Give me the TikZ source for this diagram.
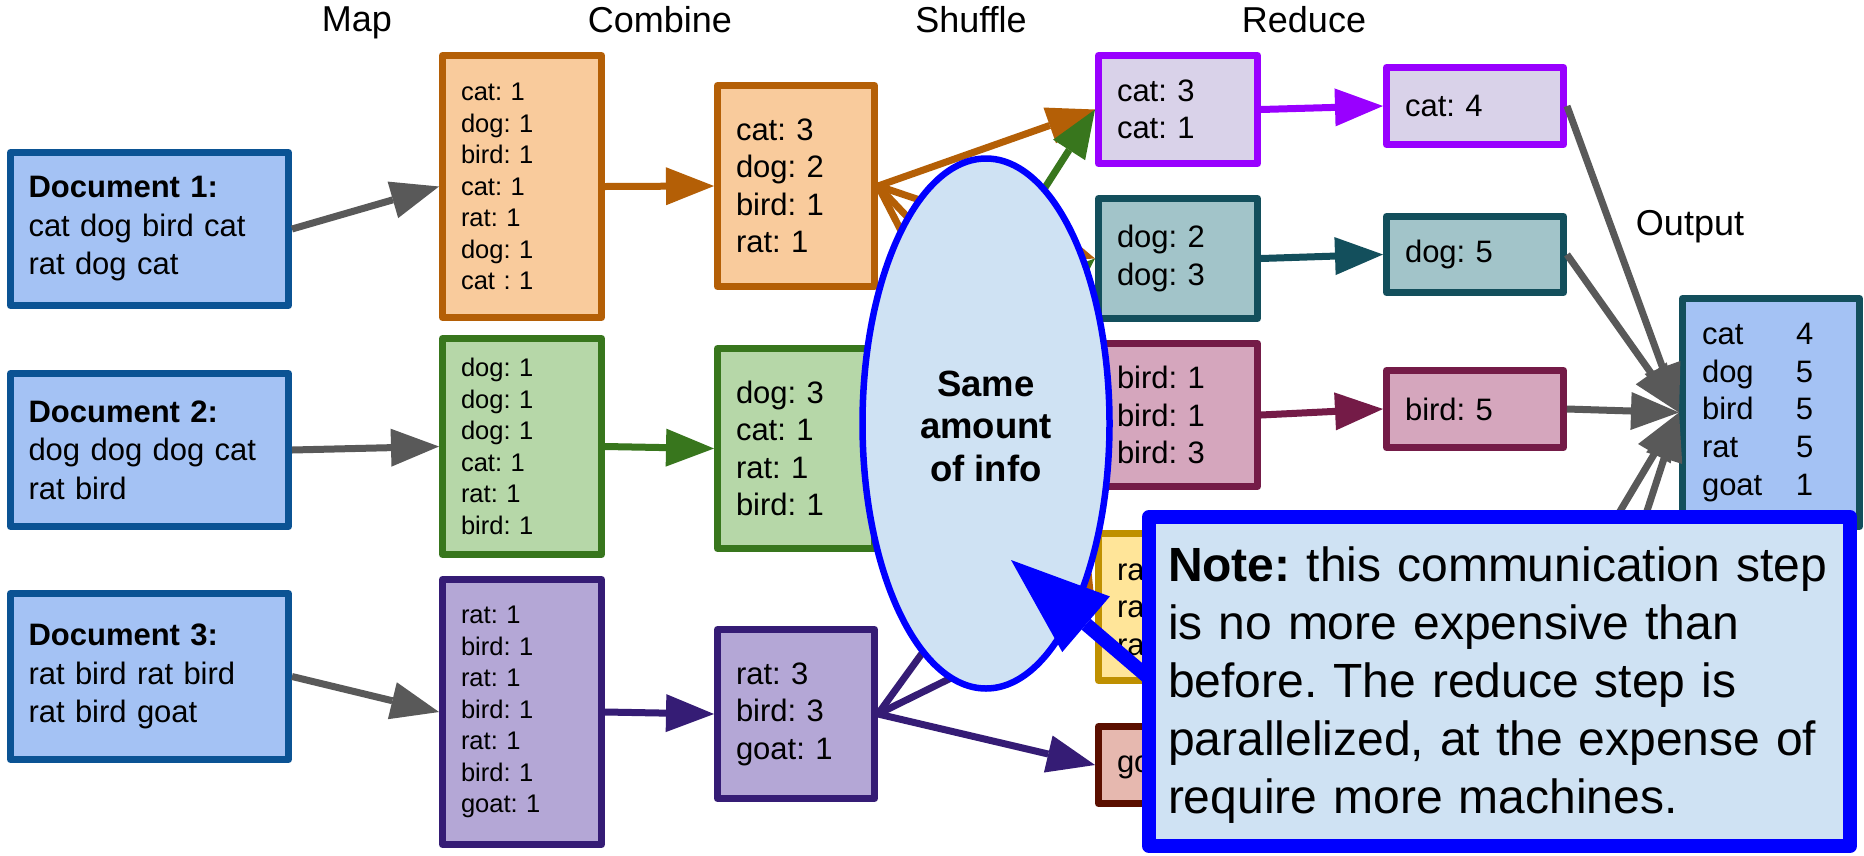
\documentclass[tikz,border=0pt]{standalone}
\usepackage{fontspec}
\setmainfont{Liberation Sans}
\usetikzlibrary{arrows.meta,shapes.geometric}
\definecolor{docfill}{HTML}{A4C2F4}
\definecolor{docline}{HTML}{0B5394}
\definecolor{orfill}{HTML}{F9CB9C}
\definecolor{orline}{HTML}{B45F06}
\definecolor{grfill}{HTML}{B6D7A8}
\definecolor{grline}{HTML}{38761D}
\definecolor{pufill}{HTML}{B4A7D6}
\definecolor{puline}{HTML}{351C75}
\definecolor{catfill}{HTML}{D9D2E9}
\definecolor{catline}{HTML}{9900FF}
\definecolor{dogfill}{HTML}{A2C4C9}
\definecolor{dogline}{HTML}{134F5C}
\definecolor{birdfill}{HTML}{D5A6BD}
\definecolor{birdline}{HTML}{741B47}
\definecolor{ratfill}{HTML}{FFE599}
\definecolor{ratline}{HTML}{BF9000}
\definecolor{goatfill}{HTML}{E6B8AF}
\definecolor{goatline}{HTML}{5B0F00}
\definecolor{ellfill}{HTML}{CFE2F3}
\definecolor{callblue}{HTML}{0000FF}
\definecolor{arrgray}{HTML}{595959}
\frenchspacing
\begin{document}
\begin{tikzpicture}[x=1pt,y=-1pt,
  box/.style={draw, line width=7pt, line join=round, inner sep=0pt, align=left,
    font=\fontsize{31}{37.5}\selectfont},
  docbox/.style={box, fill=docfill, draw=docline, minimum width=278pt, text width=242pt,
    font=\fontsize{31}{38.5}\selectfont},
  mapbox/.style={box, minimum width=159pt, text width=122pt, font=\fontsize{25.5}{31.5}\selectfont},
  combox/.style={box, minimum width=157pt, text width=120pt},
  redbox/.style={box, minimum width=159pt, text width=122pt},
  outbox/.style={box, minimum width=177pt, text width=140pt},
  conn/.style={line width=7pt, -{Triangle[length=48pt,width=38pt,line width=0pt]}},
  lbl/.style={anchor=base, inner sep=0pt, font=\fontsize{36}{43}\selectfont},
]
\useasboundingbox (0,0) rectangle (1864,855);
\fill[white] (0,0) rectangle (1864,855);

% column labels
\node[lbl] (lmap) at (357,31) {Map};
\node[lbl] (lcomb) at (660,32) {Combine};
\node[lbl] (lshuf) at (971,32) {Shuffle};
\node[lbl] (lred) at (1304,32) {Reduce};
\node[lbl] (lout) at (1690,235) {Output};

% documents
\node[docbox, minimum height=153pt] (doc1) at (149.5,229) {\textbf{Document 1:}\\cat dog bird cat\\rat dog cat};
\node[docbox, minimum height=153pt] (doc2) at (149.5,450) {\textbf{Document 2:}\\dog dog dog cat\\rat bird};
\node[docbox, minimum height=166pt] (doc3) at (149.5,676.5) {\textbf{Document 3:}\\rat bird rat bird\\rat bird goat};

% map outputs
\node[mapbox, fill=orfill, draw=orline, minimum height=262pt] (map1) at (522,186.5)
  {cat: 1\\dog: 1\\bird: 1\\cat: 1\\rat: 1\\dog: 1\\cat : 1};
\node[mapbox, fill=grfill, draw=grline, minimum height=216pt] (map2) at (522,446.5)
  {dog: 1\\dog: 1\\dog: 1\\cat: 1\\rat: 1\\bird: 1};
\node[mapbox, fill=pufill, draw=puline, minimum height=265pt] (map3) at (522,712)
  {rat: 1\\bird: 1\\rat: 1\\bird: 1\\rat: 1\\bird: 1\\goat: 1};

% combine outputs
\node[combox, fill=orfill, draw=orline, minimum height=201pt] (comb1) at (796,186)
  {cat: 3\\dog: 2\\bird: 1\\rat: 1};
\node[combox, fill=grfill, draw=grline, minimum height=200pt] (comb2) at (796,448.5)
  {dog: 3\\cat: 1\\rat: 1\\bird: 1};
\node[combox, fill=pufill, draw=puline, minimum height=169pt] (comb3) at (796,714)
  {rat: 3\\bird: 3\\goat: 1};

% reduce inputs
\node[redbox, fill=catfill, draw=catline, minimum height=108pt] (rcat) at (1178,109.5) {cat: 3\\cat: 1};
\node[redbox, fill=dogfill, draw=dogline, minimum height=120pt] (rdog) at (1178,258.5) {dog: 2\\dog: 3};
\node[redbox, fill=birdfill, draw=birdline, minimum height=143pt] (rbird) at (1178,415) {bird: 1\\bird: 1\\bird: 3};
\node[redbox, fill=ratfill, draw=ratline, minimum height=147pt] (rrat) at (1178,607) {rat: 1\\rat: 1\\rat: 3};
\node[redbox, fill=goatfill, draw=goatline, minimum height=77pt] (rgoat) at (1178,765) {goat: 1};

% reduce outputs
\node[outbox, fill=catfill, draw=catline, minimum height=77pt] (ocat) at (1475,106) {cat: 4};
\node[outbox, fill=dogfill, draw=dogline, minimum height=76pt] (odog) at (1475,254.5) {dog: 5};
\node[outbox, fill=birdfill, draw=birdline, minimum height=77pt] (obird) at (1475,409) {bird: 5};

% final output
\node[box, fill=docfill, draw=dogline, minimum width=177pt, minimum height=228pt, text width=138pt,
  font=\fontsize{31}{37.7}\selectfont] (output) at (1771,412.5)
  {\makebox[94pt][l]{cat}4\\\makebox[94pt][l]{dog}5\\\makebox[94pt][l]{bird}5\\\makebox[94pt][l]{rat}5\\\makebox[94pt][l]{goat}1};

\coordinate (rat5) at (1567,600);
\coordinate (goat1) at (1567,757);

% map arrows
\draw[conn, arrgray] (doc1.east) -- (map1.west);
\draw[conn, arrgray] (doc2.east) -- (map2.west);
\draw[conn, arrgray] (doc3.east) -- (map3.west);

% combine arrows
\draw[conn, orline] (map1.east) -- (comb1.west);
\draw[conn, grline] (map2.east) -- (comb2.west);
\draw[conn, puline] (map3.east) -- (comb3.west);

% shuffle arrows
\foreach \t in {rcat,rdog,rbird,rrat} \draw[conn, orline] (comb1.east) -- (\t.west);
\foreach \t in {rcat,rdog,rbird,rrat} \draw[conn, grline] (comb2.east) -- (\t.west);
\foreach \t in {rbird,rrat,rgoat} \draw[conn, puline] (comb3.east) -- (\t.west);

% reduce arrows
\draw[conn, catline] (rcat.east) -- (ocat.west);
\draw[conn, dogline] (rdog.east) -- (odog.west);
\draw[conn, birdline] (rbird.east) -- (obird.west);

% to output
\draw[conn, arrgray] (ocat.east) -- (output.west);
\draw[conn, arrgray] (odog.east) -- (output.west);
\draw[conn, arrgray] (obird.east) -- (output.west);
\draw[conn, arrgray] (rat5) -- (output.west);
\draw[conn, arrgray] (goat1) -- (output.west);

% ellipse
\node[ellipse, draw=callblue, fill=ellfill, line width=6.5pt, minimum width=247pt, minimum height=530pt,
  inner sep=0pt, align=center, font=\fontsize{36.5}{42.5}\selectfont\bfseries] (ell) at (986,423.5)
  {\rule{0pt}{31pt}Same\\amount\\of info};

% callout arrow
\coordinate (calltip) at (1011,560);
\coordinate (callfrom) at (1160,687.5);
\draw[line width=14pt, callblue, -{Triangle[length=98.8pt,width=73.2pt,line width=0pt]}] (callfrom) -- (calltip);

% note
\node[draw=callblue, fill=ellfill, line width=14pt, line join=round, minimum width=701pt, minimum height=329pt,
  inner sep=0pt, text width=663pt, align=left, font=\fontsize{48}{58}\selectfont] (note) at (1499.5,681.5)
  {\mbox{\rule{0pt}{41pt}\textbf{Note:} this communication step}\\is no more expensive than\\before. The reduce step is\\parallelized, at the expense of\\require more machines.};
\end{tikzpicture}
\end{document}
